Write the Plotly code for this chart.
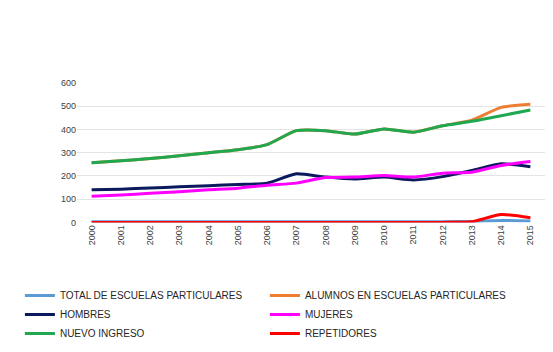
import plotly.graph_objects as go

years = [str(y) for y in range(2000, 2016)]
total_escuelas = [3, 3, 3, 3, 3, 3, 3, 3, 3, 3, 3, 3, 3, 4, 8, 6]
alumnos = [257, 265, 275, 287, 300, 313, 335, 395, 395, 380, 402, 388, 416, 440, 495, 509]
hombres = [140, 143, 148, 153, 158, 163, 169, 209, 195, 187, 195, 183, 197, 223, 252, 240]
mujeres = [112, 118, 125, 132, 140, 147, 160, 169, 193, 195, 202, 195, 212, 216, 245, 262]
nuevo_ingreso = [257, 265, 275, 287, 300, 313, 335, 395, 395, 380, 402, 388, 416, 435, 459, 484]
repetidores = [0, 0, 0, 0, 0, 0, 0, 0, 0, 0, 0, 0, 0, 3, 34, 20]

y_ticks = [0, 100, 200, 300, 400, 500, 600]

series = [
    ("TOTAL DE ESCUELAS PARTICULARES", total_escuelas, "#5b9bd5"),
    ("ALUMNOS EN ESCUELAS PARTICULARES", alumnos, "#ed7d31"),
    ("HOMBRES", hombres, "#0b1a5c"),
    ("MUJERES", mujeres, "#ff00ff"),
    ("NUEVO INGRESO", nuevo_ingreso, "#1fa84f"),
    ("REPETIDORES", repetidores, "#ff0000"),
]

fig = go.Figure()
for name, vals, color in series:
    fig.add_trace(go.Scatter(
        x=years, y=vals, name=name, mode="lines",
        line=dict(color=color, width=3, shape="spline", smoothing=0.6),
    ))

fig.update_layout(
    width=553, height=352,
    margin=dict(l=63, r=16, t=75, b=74),
    paper_bgcolor="white", plot_bgcolor="white",
    font=dict(family="Liberation Sans", color="#404040", size=9),
    showlegend=True,
    legend=dict(
        orientation="h", x=-0.122, xanchor="left", y=0, yanchor="top",
        entrywidth=200, entrywidthmode="pixels",
        font=dict(size=10, color="#262626"),
        itemwidth=30,
    ),
    xaxis=dict(
        type="category", range=[-0.5, 15.5], tickangle=-90,
        showgrid=False, showline=False, ticks="", automargin=False,
        tickfont=dict(size=9, color="#404040"),
    ),
    yaxis=dict(
        domain=[0.296, 1],
        range=[0, 600], tickvals=y_ticks, ticktext=[str(v) for v in y_ticks],
        showgrid=True, gridcolor="#e4e4e4", gridwidth=1,
        zeroline=False, showline=False, ticks="",
        tickfont=dict(size=9, color="#404040"),
    ),
)

fig.write_html("out.html")
